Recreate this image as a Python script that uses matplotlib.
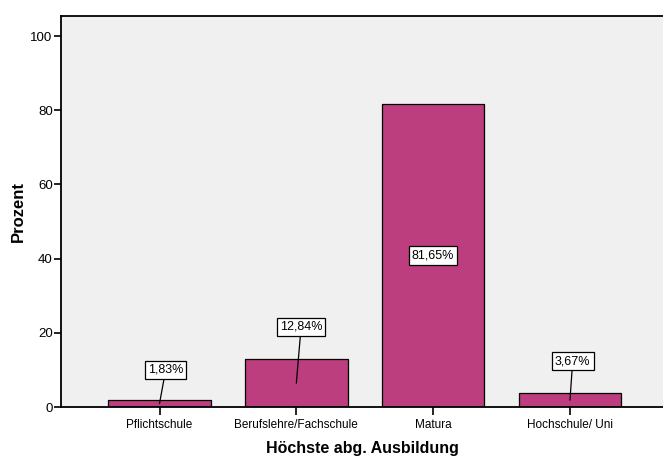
import matplotlib
matplotlib.use("Agg")
import matplotlib.pyplot as plt

categories = ["Pflichtschule", "Berufslehre/Fachschule", "Matura", "Hochschule/ Uni"]
values = [1.83, 12.84, 81.65, 3.67]
labels = ["1,83%", "12,84%", "81,65%", "3,67%"]
yticks = [0, 20, 40, 60, 80, 100]

plt.rcParams['font.family'] = ['Liberation Sans', 'DejaVu Sans']

fig = plt.figure(figsize=(6.63, 4.57), dpi=100)
ax = fig.add_axes([61/663, 1-407/457, (663-61)/663, (407-16)/457])
ax.set_facecolor('#F0F0F0')

x = list(range(len(categories)))
ax.bar(x, values, width=0.75, color='#BC3E7E', edgecolor='black', linewidth=0.9, zorder=2)

ax.set_xlim(-0.72, 3.68)
ax.set_ylim(0, 105.4)
ax.set_yticks(yticks)
ax.set_yticklabels([str(t) for t in yticks], fontsize=9.5)
ax.set_xticks(x)
ax.set_xticklabels(categories, fontsize=8.5)
ax.tick_params(axis='y', length=5, width=1.2, pad=1)
ax.tick_params(axis='x', length=6, width=1.2, pad=3)

ax.spines['right'].set_visible(False)
for s in ['left', 'top', 'bottom']:
    ax.spines[s].set_linewidth(1.3)

ax.set_ylabel("Prozent", fontsize=12, fontweight='bold', labelpad=3)
ax.set_xlabel("Höchste abg. Ausbildung", fontsize=11.5, fontweight='bold', labelpad=7)

box_dx = [0.045, 0.035, 0.0, 0.02]
box_y = [10.0, 21.6, None, 12.4]
bbox = dict(boxstyle='square,pad=0.25', facecolor='white', edgecolor='black', linewidth=0.9)
for i, (v, lab) in enumerate(zip(values, labels)):
    if box_y[i] is None:
        ax.text(i, v / 2, lab, ha='center', va='center', fontsize=9, bbox=bbox, zorder=4)
    else:
        ax.annotate(lab, xy=(i, v / 2), xytext=(i + box_dx[i], box_y[i]), ha='center', va='center',
                    fontsize=9, bbox=bbox, zorder=4,
                    arrowprops=dict(arrowstyle='-', color='black', lw=0.9,
                                    shrinkA=0, shrinkB=0))

fig.savefig("out.png", dpi=100)
